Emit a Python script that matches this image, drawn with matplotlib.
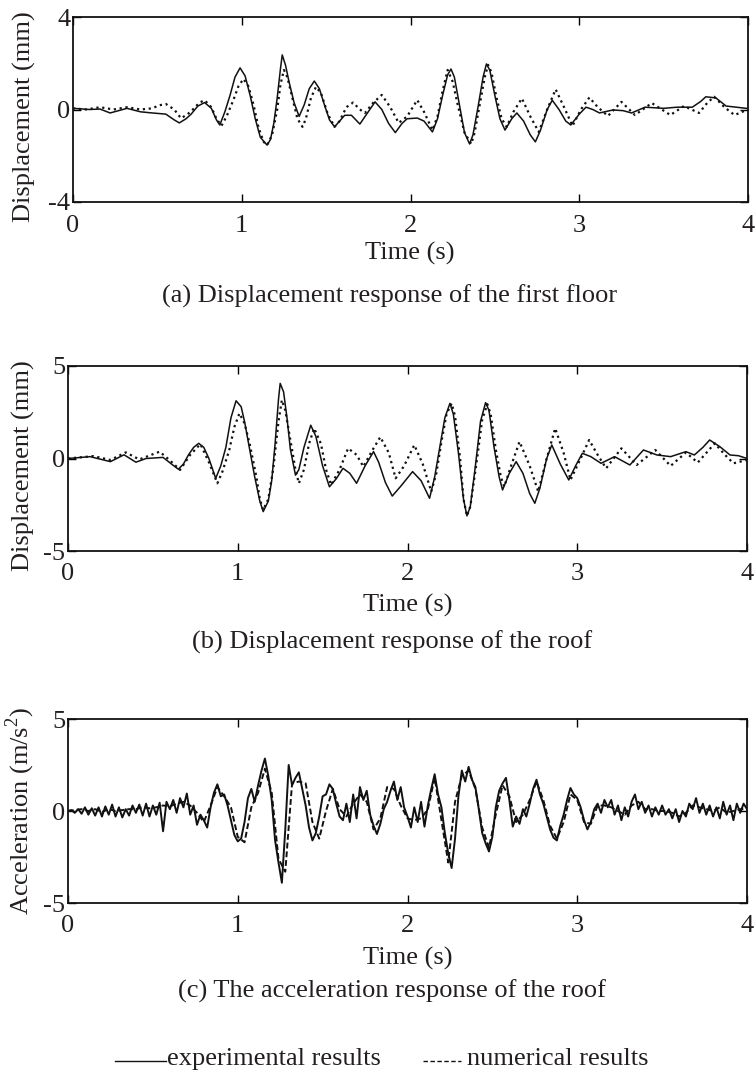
import matplotlib
matplotlib.use('Agg')
import matplotlib.pyplot as plt
from matplotlib.lines import Line2D
import numpy as np

plt.rcParams['font.family'] = ['Liberation Serif', 'DejaVu Serif']
plt.rcParams['axes.unicode_minus'] = False
plt.rcParams['mathtext.fontset'] = 'custom'
plt.rcParams['mathtext.rm'] = 'Liberation Serif'

# (a) first floor displacement, mm
a_exp_t = [0.00, 0.10, 0.16, 0.22, 0.27, 0.32, 0.40, 0.47, 0.55, 0.60, 0.63, 0.67, 0.70, 0.74, 0.78,
           0.82, 0.85, 0.87, 0.90, 0.93, 0.96, 0.99, 1.02, 1.05, 1.08, 1.11, 1.15, 1.17, 1.19, 1.21,
           1.23, 1.24, 1.26, 1.28, 1.31, 1.34, 1.37, 1.40, 1.43, 1.46, 1.49, 1.52, 1.55, 1.58, 1.61,
           1.65, 1.70, 1.74, 1.79, 1.83, 1.87, 1.91, 1.95, 1.98, 2.04, 2.08, 2.13, 2.16, 2.19, 2.22,
           2.24, 2.26, 2.29, 2.32, 2.35, 2.37, 2.40, 2.43, 2.45, 2.47, 2.50, 2.53, 2.56, 2.60, 2.63,
           2.67, 2.71, 2.74, 2.77, 2.81, 2.84, 2.88, 2.92, 2.95, 3.00, 3.04, 3.08, 3.12, 3.20, 3.26,
           3.31, 3.39, 3.50, 3.58, 3.67, 3.72, 3.75, 3.81, 3.87, 3.93, 3.99]
a_exp = [0.05, 0.0, 0.02, -0.15, -0.05, 0.05, -0.1, -0.15, -0.2, -0.45, -0.58, -0.4, -0.2, 0.15, 0.3,
         0.05, -0.45, -0.67, -0.1, 0.6, 1.4, 1.8, 1.45, 0.6, -0.4, -1.2, -1.54, -1.3, -0.6, 0.5,
         1.8, 2.36, 1.9, 1.2, 0.3, -0.3, 0.2, 0.9, 1.23, 0.9, 0.2, -0.45, -0.75, -0.5, -0.25,
         -0.25, -0.63, -0.2, 0.33, 0.0, -0.6, -1.0, -0.6, -0.4, -0.37, -0.5, -0.97, -0.4, 0.6, 1.5,
         1.75, 1.4, 0.2, -1.0, -1.49, -1.1, 0.1, 1.4, 1.97, 1.7, 0.6, -0.4, -0.89, -0.4, -0.15,
         -0.5, -1.1, -1.4, -0.9, 0.0, 0.4, 0.0, -0.5, -0.67, -0.2, 0.1, 0.0, -0.15, -0.02, -0.05,
         -0.15, 0.1, 0.05, 0.1, 0.1, 0.35, 0.55, 0.5, 0.15, 0.1, 0.05]
a_num_t = [0.00, 0.08, 0.16, 0.24, 0.32, 0.40, 0.47, 0.51, 0.55, 0.60, 0.64, 0.68, 0.71, 0.75, 0.78,
           0.82, 0.85, 0.88, 0.91, 0.95, 0.98, 1.01, 1.04, 1.07, 1.10, 1.13, 1.15, 1.18, 1.21, 1.23,
           1.25, 1.27, 1.30, 1.33, 1.36, 1.38, 1.41, 1.44, 1.47, 1.51, 1.55, 1.58, 1.62, 1.66, 1.70,
           1.73, 1.78, 1.83, 1.88, 1.93, 1.98, 2.04, 2.08, 2.13, 2.16, 2.19, 2.22, 2.25, 2.28, 2.32,
           2.36, 2.38, 2.41, 2.44, 2.46, 2.48, 2.51, 2.54, 2.57, 2.61, 2.66, 2.71, 2.76, 2.81, 2.86,
           2.91, 2.96, 3.01, 3.06, 3.11, 3.17, 3.25, 3.33, 3.43, 3.54, 3.62, 3.71, 3.76, 3.80, 3.86,
           3.92, 4.00]
a_num = [0.05, 0.0, 0.1, 0.0, 0.1, 0.0, 0.05, 0.18, 0.24, 0.0, -0.38, -0.2, 0.0, 0.3, 0.4,
         0.1, -0.4, -0.7, -0.3, 0.4, 1.0, 1.32, 1.0, 0.2, -0.8, -1.4, -1.54, -1.1, 0.0, 1.1,
         1.71, 1.4, 0.5, -0.4, -0.75, -0.4, 0.5, 0.98, 0.7, -0.2, -0.75, -0.5, 0.1, 0.3, 0.0,
         -0.15, 0.3, 0.63, 0.1, -0.58, -0.3, 0.41, -0.1, -0.89, -0.3, 0.8, 1.71, 1.2, 0.2, -1.0,
         -1.49, -1.0, 0.2, 1.4, 1.93, 1.6, 0.5, -0.4, -0.75, -0.1, 0.48, -0.3, -0.97, 0.0, 0.87,
         0.1, -0.71, 0.0, 0.52, 0.1, -0.28, 0.33, -0.24, 0.28, -0.24, 0.15, -0.15, 0.3, 0.55, 0.1,
         -0.24, 0.0]

# (b) roof displacement, mm
b_exp_t = [0.00, 0.13, 0.25, 0.33, 0.40, 0.46, 0.56, 0.61, 0.65, 0.68, 0.71, 0.74, 0.77, 0.80, 0.83,
           0.87, 0.90, 0.93, 0.96, 0.99, 1.02, 1.04, 1.07, 1.10, 1.13, 1.15, 1.18, 1.20, 1.22, 1.24,
           1.25, 1.27, 1.29, 1.31, 1.34, 1.36, 1.39, 1.43, 1.46, 1.50, 1.54, 1.58, 1.62, 1.66, 1.70,
           1.75, 1.80, 1.83, 1.87, 1.91, 1.96, 2.03, 2.08, 2.13, 2.16, 2.19, 2.22, 2.25, 2.27, 2.30,
           2.33, 2.35, 2.37, 2.40, 2.43, 2.46, 2.48, 2.51, 2.54, 2.56, 2.60, 2.64, 2.68, 2.72, 2.75,
           2.78, 2.82, 2.85, 2.90, 2.95, 2.99, 3.03, 3.08, 3.14, 3.22, 3.31, 3.39, 3.47, 3.55, 3.64,
           3.69, 3.74, 3.78, 3.84, 3.90, 3.95, 4.00]
b_exp = [0.0, 0.1, -0.17, 0.2, -0.2, 0.0, 0.06, -0.3, -0.58, -0.3, 0.2, 0.6, 0.82, 0.6, 0.0,
         -1.07, -0.4, 0.6, 2.2, 3.12, 2.8, 2.0, 0.5, -1.0, -2.3, -2.87, -2.3, -1.2, 0.8, 3.2,
         4.06, 3.6, 2.2, 0.5, -0.9, -0.6, 0.6, 1.8, 1.2, -0.4, -1.53, -1.1, -0.53, -0.8, -1.34,
         -0.4, 0.37, -0.2, -1.3, -2.03, -1.5, -0.71, -1.2, -2.15, -1.0, 0.6, 2.2, 2.98, 2.4, 0.3,
         -2.2, -3.1, -2.6, -0.4, 2.0, 3.02, 2.6, 0.6, -1.0, -1.7, -0.8, -0.17, -0.8, -1.9, -2.42,
         -1.6, 0.0, 0.73, -0.3, -1.16, -0.4, 0.28, 0.1, -0.26, 0.1, -0.35, 0.46, 0.19, 0.1, 0.37,
         0.19, 0.6, 1.0, 0.64, 0.19, 0.15, 0.0]
b_num_t = [0.00, 0.15, 0.25, 0.34, 0.42, 0.54, 0.60, 0.66, 0.72, 0.78, 0.83, 0.88, 0.91, 0.95, 0.98,
           1.01, 1.04, 1.07, 1.11, 1.13, 1.15, 1.18, 1.21, 1.24, 1.26, 1.28, 1.31, 1.34, 1.36, 1.39,
           1.42, 1.45, 1.49, 1.52, 1.55, 1.60, 1.65, 1.70, 1.74, 1.79, 1.84, 1.89, 1.93, 1.98, 2.04,
           2.09, 2.14, 2.17, 2.20, 2.23, 2.26, 2.28, 2.31, 2.33, 2.35, 2.37, 2.41, 2.44, 2.47, 2.49,
           2.52, 2.55, 2.57, 2.61, 2.66, 2.72, 2.77, 2.82, 2.87, 2.92, 2.96, 3.02, 3.07, 3.12, 3.17,
           3.26, 3.35, 3.46, 3.55, 3.64, 3.71, 3.81, 3.87, 3.92, 4.00]
b_num = [0.0, 0.13, -0.08, 0.33, -0.05, 0.37, -0.1, -0.62, 0.2, 0.78, -0.2, -1.34, -0.7, 0.46, 1.7,
         2.44, 1.9, 0.8, -1.0, -2.2, -2.78, -2.2, -0.5, 2.0, 3.16, 2.6, 1.0, -0.6, -1.34, -0.6,
         0.8, 1.63, 0.8, -0.6, -1.43, -0.6, 0.55, 0.2, -0.44, 0.4, 1.16, 0.3, -1.07, -0.4, 0.73,
         -0.3, -1.79, -0.8, 0.9, 2.4, 2.98, 2.3, 0.0, -2.2, -3.1, -2.6, 0.0, 2.1, 2.94, 2.4,
         0.5, -1.0, -1.52, -0.4, 0.91, -0.4, -1.79, 0.0, 1.63, 0.3, -1.16, 0.0, 1.0, 0.2, -0.53,
         0.55, -0.35, 0.46, -0.4, 0.32, -0.22, 0.82, 0.2, -0.26, -0.08]

# (c) roof acceleration, m/s^2 (experimental every 0.02 s, numerical every 0.04 s)
c_exp = [0, 0.05, -0.1, 0.1, -0.15, 0.2, -0.2, 0.15, -0.25, 0.2,
         -0.3, 0.25, -0.2, 0.35, -0.3, 0.2, -0.35, 0.1, -0.25, 0.3,
         -0.1, 0.35, -0.25, 0.4, -0.3, 0.3, -0.2, 0.45, -1.1, 0.5,
         0.1, 0.6, -0.1, 0.7, 0.2, 0.95, -0.2, 0.3, -0.75, -0.2,
         -0.5, -0.9, 0.2, 1.0, 1.45, 0.8, 0.9, 0.3, -0.5, -1.3,
         -1.65, -1.5, -0.6, 0.7, 1.2, 0.5, 1.4, 2.2, 2.85, 1.9,
         0.6, -1.6, -2.8, -3.9, -1.0, 2.5, 1.4, 1.8, 2.1, 1.2,
         0.3, -0.9, -1.6, -1.2, -0.3, 0.8, 0.9, 1.45, 1.2, 0.4,
         -0.3, -0.5, 0.4, -0.6, 0.9, -0.4, 1.3, 0.6, 1.1, -0.2,
         -0.8, -1.25, -0.7, 0.1, 0.5, 1.1, 1.6, 0.6, 1.3, 0.2,
         -0.3, -0.9, 0.2, -0.6, 0.5, -0.85, 0.3, 1.2, 2.0, 0.9,
         0.2, -1.2, -2.3, -3.1, -1.5, 0.8, 2.2, 1.6, 2.4, 1.7,
         1.3, 0.1, -1.2, -1.75, -2.2, -1.4, 0.2, 1.1, 1.5, 1.8,
         0.6, -0.85, -0.3, -0.7, 0.1, -0.3, 0.4, 1.2, 1.7, 0.9,
         0.4, -0.3, -1.0, -1.45, -1.6, -0.8, -0.2, 0.6, 1.25, 0.9,
         0.7, 0.2, -0.5, -1.0, -0.6, 0.1, 0.4, -0.1, 0.6, 0.2,
         0.6, -0.2, 0.3, -0.5, 0.2, -0.3, 0.5, 0.9, 0.1, 0.5,
         -0.1, 0.3, -0.3, 0.2, -0.2, 0.3, -0.2, 0.1, -0.4, 0.1,
         -0.6, 0.0, -0.3, 0.4, 0.1, 0.7, -0.1, 0.4, -0.2, 0.3,
         -0.3, 0.2, -0.4, 0.5, -0.2, 0.3, -0.5, 0.4, -0.1, 0.4, 0.1]
c_num = [0, 0.05, 0.1, 0.0, 0.1, -0.05, 0.1, 0.0, 0.05, 0.1,
         0.1, 0.2, 0.15, 0.2, 0.3, 0.25, 0.4, 0.5, 0.3, -0.1,
         -0.6, 0.3, 1.3, 0.8, 0.2, -1.4, -1.7, 0.2, 1.0, 2.3,
         1.0, -2.6, -3.3, 1.5, 1.6, 1.5, -0.6, -1.5, 0.0, 1.2,
         0.1, -0.3, 0.4, 0.9, 0.5, -1.0, -0.4, 1.3, 1.2, 0.3,
         -0.4, -0.5, -0.4, 0.1, 1.8, -0.5, -2.8, 0.5, 1.9, 2.2,
         1.2, -0.9, -2.0, -0.2, 1.4, 0.8, -0.6, -0.2, 0.6, 1.6,
         0.6, -0.8, -1.5, -0.6, 0.9, 0.6, -0.6, -0.7, 0.3, 0.3,
         0.2, 0.0, -0.2, 0.3, 0.5, 0.1, 0.1, 0.0, 0.0, -0.1,
         -0.3, -0.1, 0.3, 0.2, 0.1, 0.0, 0.2, -0.1, 0.0, 0.1, 0.1]
c_exp_t = np.arange(len(c_exp)) * 0.02
c_num_t = np.arange(len(c_num)) * 0.04

txt = '#231f20'
fs = 19
W, H = 755, 1074


def style_axes(ax, ylim, yticks):
    ax.set_xlim(0, 4)
    ax.set_ylim(ylim)
    ax.set_xticks([0, 1, 2, 3, 4])
    ax.set_yticks(yticks)
    ax.tick_params(direction='in', top=True, right=True, length=6, width=1.0,
                   labelsize=fs, colors='black', labelcolor=txt, pad=9)
    ax.tick_params(axis='y', pad=2)
    for s in ax.spines.values():
        s.set_linewidth(1.3)
        s.set_color('#111111')


def px_axes(l, r, t, b):
    return [l / W, 1 - b / H, (r - l) / W, (b - t) / H]


fig = plt.figure(figsize=(7.55, 10.74), dpi=100)

ax1 = fig.add_axes(px_axes(73, 748, 17, 202))
ax1.plot(a_exp_t, a_exp, color='#111111', lw=1.1)
ax1.plot(a_num_t, a_num, color='#111111', lw=1.6, ls=':')
style_axes(ax1, (-4, 4), [-4, 0, 4])
ax1.set_ylabel('Displacement (mm)', fontsize=fs, color=txt)
ax1.yaxis.set_label_coords(-0.055, 0.46)

ax2 = fig.add_axes(px_axes(68, 747, 366, 551))
ax2.plot(b_exp_t, b_exp, color='#111111', lw=1.1)
ax2.plot(b_num_t, b_num, color='#111111', lw=1.6, ls=':')
style_axes(ax2, (-5, 5), [-5, 0, 5])
ax2.set_ylabel('Displacement (mm)', fontsize=fs, color=txt)
ax2.yaxis.set_label_coords(-0.048, 0.46)

ax3 = fig.add_axes(px_axes(68, 747, 719, 903))
ax3.plot(c_num_t, c_num, color='#111111', lw=1.4, ls='--', dashes=(3, 1.5))
ax3.plot(c_exp_t, c_exp, color='#111111', lw=1.4)
style_axes(ax3, (-5, 5), [-5, 0, 5])
ax3.set_ylabel('Acceleration (m/s$^2$)', fontsize=fs, color=txt)
ax3.yaxis.set_label_coords(-0.045, 0.5)

# x labels and captions
for xc, y, s in [(410, 253, 'Time (s)'), (390, 296, '(a) Displacement response of the first floor'),
                 (408, 605, 'Time (s)'), (392, 642, '(b) Displacement response of the roof'),
                 (408, 958, 'Time (s)'), (392, 991, '(c) The acceleration response of the roof')]:
    fig.text(xc / W, 1 - y / H, s, ha='center', va='center', fontsize=fs, color=txt)

# legend drawn as line + text, like the original caption line
ly = 1 - 1059 / H
fig.add_artist(Line2D([115 / W, 166 / W], [ly - 2 / H, ly - 2 / H], color='#111111', lw=1.0))
fig.text(167 / W, ly, 'experimental results', ha='left', va='center', fontsize=fs, color=txt)
fig.add_artist(Line2D([423 / W, 461 / W], [ly - 2 / H, ly - 2 / H], color='#111111', lw=1.0,
                      ls='--', dashes=(3.2, 1.8)))
fig.text(467 / W, ly, 'numerical results', ha='left', va='center', fontsize=fs, color=txt)

plt.savefig('out.png', dpi=100)
